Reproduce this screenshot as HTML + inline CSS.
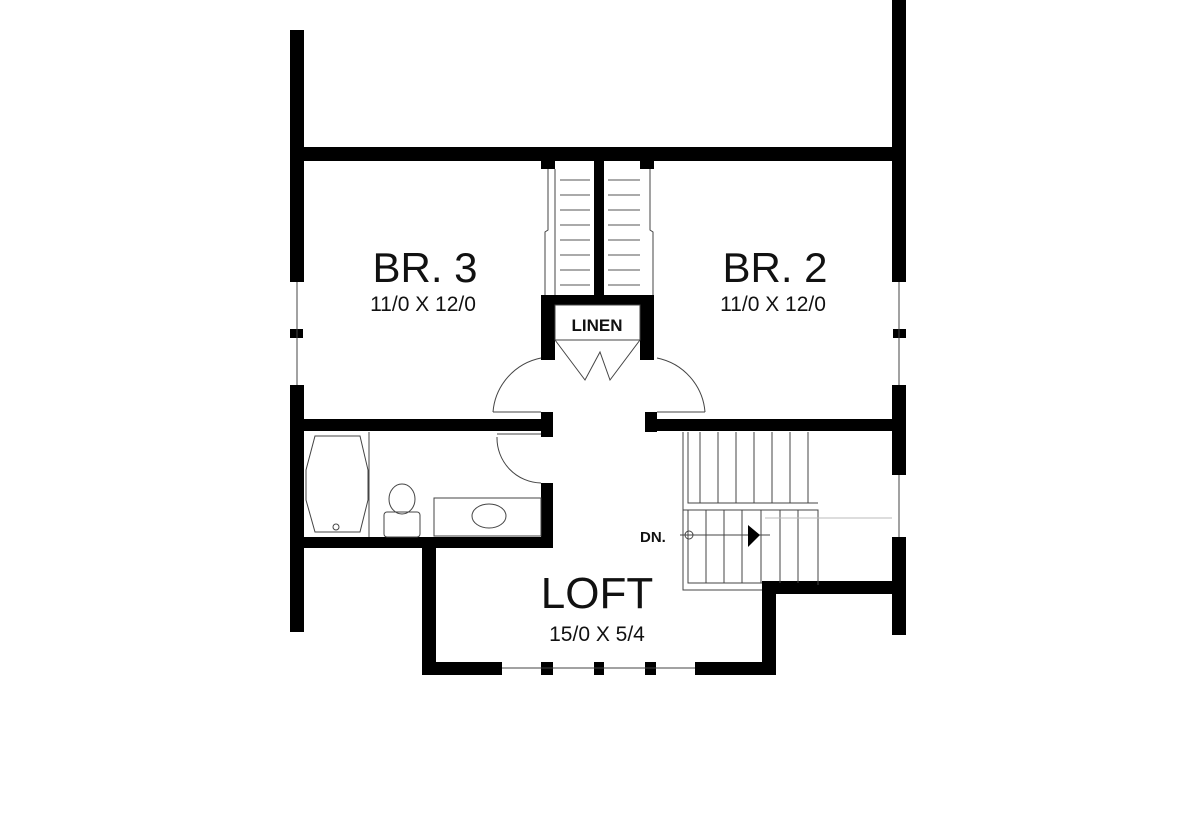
<!DOCTYPE html>
<html><head><style>body{margin:0;background:#fff}svg{display:block}text{font-family:"Liberation Sans",sans-serif;fill:#111}</style></head><body>
<svg width="1200" height="822" viewBox="0 0 1200 822" xmlns="http://www.w3.org/2000/svg">
<g fill="#000">
<rect x="290" y="30" width="14" height="252"/>
<rect x="290" y="329" width="13" height="9"/>
<rect x="290" y="385" width="14" height="247"/>
<rect x="892" y="0" width="14" height="282"/>
<rect x="893" y="329" width="13" height="9"/>
<rect x="892" y="385" width="14" height="90"/>
<rect x="892" y="537" width="14" height="98"/>
<rect x="290" y="147" width="616" height="14"/>
<rect x="541" y="161" width="14" height="8"/>
<rect x="640" y="161" width="14" height="8"/>
<rect x="594" y="161" width="10" height="140"/>
<rect x="541" y="295" width="113" height="10"/>
<rect x="541" y="295" width="14" height="65"/>
<rect x="640" y="295" width="14" height="65"/>
<rect x="304" y="419" width="249" height="12"/>
<rect x="541" y="412" width="12" height="25"/>
<rect x="645" y="412" width="12" height="20"/>
<rect x="645" y="419" width="247" height="12"/>
<rect x="541" y="483" width="12" height="65"/>
<rect x="290" y="537" width="263" height="11"/>
<rect x="422" y="548" width="14" height="127"/>
<rect x="422" y="662" width="80" height="13"/>
<rect x="541" y="662" width="12" height="13"/>
<rect x="594" y="662" width="10" height="13"/>
<rect x="645" y="662" width="11" height="13"/>
<rect x="695" y="662" width="81" height="13"/>
<rect x="762" y="581" width="14" height="94"/>
<rect x="762" y="581" width="130" height="13"/>
</g>
<g fill="none" stroke="#444" stroke-width="1">
<line x1="297" y1="282" x2="297" y2="385"/>
<line x1="899" y1="282" x2="899" y2="385"/>
<line x1="899" y1="475" x2="899" y2="537"/>
<line x1="502" y1="668" x2="695" y2="668"/>
<!-- closets -->
<path d="M555 169 L555 295 M548 169 L548 230 L545 232 L545 295"/>
<path d="M650 169 L650 230 L653 232 L653 295"/>
<rect x="555" y="305" width="85" height="35"/>
<path d="M555 340 L585 380 L600 352 L610 380 L640 340"/>
<!-- doors -->
<path d="M493 412 A60 60 0 0 1 541 358"/>
<line x1="493" y1="412" x2="541" y2="412"/>
<path d="M705 412 A60 60 0 0 0 657 358"/>
<line x1="657" y1="412" x2="705" y2="412"/>
<path d="M497 437 A45 45 0 0 0 541 483"/>
<line x1="497" y1="434" x2="541" y2="434"/>
<!-- bath fixtures -->
<path d="M315 436 L360 436 L368 470 L368 500 L360 532 L315 532 L306 500 L306 470 Z"/>
<line x1="369" y1="432" x2="369" y2="537"/>
<ellipse cx="402" cy="499" rx="13" ry="15"/>
<rect x="384" y="512" width="36" height="25" rx="3"/>
<rect x="434" y="498" width="107" height="38"/>
<ellipse cx="489" cy="516" rx="17" ry="12"/>
<circle cx="336" cy="527" r="3"/>
<!-- stairs -->
<path d="M683 432 L683 510 L818 510 L818 585 M688 432 L688 503 L818 503"/>
<path d="M683 505 L683 590 L762 590 M688 510 L688 583 L762 583"/>
<path d="M700 432V503 M718 432V503 M736 432V503 M754 432V503 M772 432V503 M790 432V503 M808 432V503"/>
<path d="M706 510V583 M724 510V583 M742 510V583 M761 510V583 M780 510V583 M798 510V583"/>
<line x1="680" y1="535" x2="770" y2="535"/>
<line x1="765" y1="518" x2="892" y2="518" stroke="#bbb"/>
<circle cx="689" cy="535" r="4"/>
</g>
<polygon points="748,525 760,535 748,547" fill="#000"/>
<g stroke="#555" stroke-width="1">
<path d="M560 180H590M560 195H590M560 210H590M560 225H590M560 240H590M560 255H590M560 270H590M560 285H590"/>
<path d="M608 180H640M608 195H640M608 210H640M608 225H640M608 240H640M608 255H640M608 270H640M608 285H640"/>
</g>
<text x="425" y="282" font-size="42" text-anchor="middle">BR. 3</text>
<text x="423" y="311" font-size="21" text-anchor="middle">11/0 X 12/0</text>
<text x="775" y="282" font-size="42" text-anchor="middle">BR. 2</text>
<text x="773" y="311" font-size="21" text-anchor="middle">11/0 X 12/0</text>
<text x="597" y="331" font-size="17" font-weight="bold" text-anchor="middle">LINEN</text>
<text x="597" y="608" font-size="44" text-anchor="middle">LOFT</text>
<text x="597" y="641" font-size="21" text-anchor="middle">15/0 X 5/4</text>
<text x="640" y="542" font-size="15" font-weight="bold">DN.</text>
</svg>
</body></html>
